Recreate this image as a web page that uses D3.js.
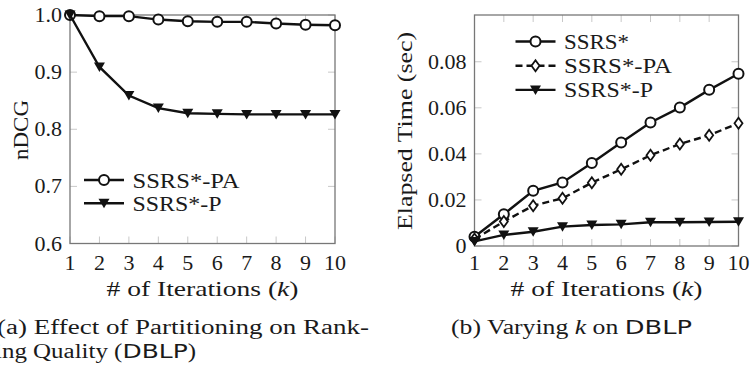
<!DOCTYPE html>
<html>
<head>
<meta charset="utf-8">
<script src="https://cdn.jsdelivr.net/npm/d3@7"></script>
<style>
  body { margin: 0; background: #fff; }
  svg text { font-family: "Liberation Serif", "DejaVu Serif", serif; fill: #1a1a1a; }
  svg .sans { font-family: "DejaVu Sans", "Liberation Sans", sans-serif; }
</style>
</head>
<body>
<div id="chart"></div>
<script>
// iterations k
var iterations = [1, 2, 3, 4, 5, 6, 7, 8, 9, 10];

// (a) nDCG
var ndcgPA = [1.0, 0.998, 0.998, 0.992, 0.989, 0.988, 0.988, 0.985, 0.983, 0.982];
var ndcgP  = [1.0, 0.909, 0.859, 0.837, 0.828, 0.827, 0.826, 0.826, 0.826, 0.826];
var ndcgTicks = [0.6, 0.7, 0.8, 0.9, 1.0];

// (b) elapsed time (sec)
var timeS  = [0.004, 0.0138, 0.024, 0.0276, 0.036, 0.0449, 0.0536, 0.0601, 0.0678, 0.0748];
var timePA = [0.003, 0.0106, 0.0175, 0.0207, 0.0275, 0.0333, 0.0394, 0.0443, 0.0481, 0.0533];
var timeP  = [0.002, 0.0048, 0.0062, 0.0084, 0.0091, 0.0094, 0.0103, 0.0103, 0.0104, 0.0105];
var timeTicks = [0, 0.02, 0.04, 0.06, 0.08];

var width = 752, height = 374;
var svg = d3.select('#chart').append('svg')
  .attr('width', width)
  .attr('height', height);

var symCircle = function(g){ g.append('circle').attr('r', 5).attr('fill', '#fff').attr('stroke', '#111').attr('stroke-width', 2); };
var symTri = function(g){ g.append('path').attr('d', 'M-5.5,-4.5L5.5,-4.5L0,5z').attr('fill', '#111'); };
var symDiamond = function(g){ g.append('path').attr('d', 'M0,-5.5L4,0L0,5.5L-4,0z').attr('fill', '#fff').attr('stroke', '#111').attr('stroke-width', 1.8); };

// stretch a text to the width it has in the reference
function fit(t, w) {
  return t.attr('textLength', w).attr('lengthAdjust', 'spacingAndGlyphs');
}

function drawPanel(p) {
  var x = d3.scaleLinear().domain([1, 10]).range([p.left, p.right]);
  var y = d3.scaleLinear().domain(p.ydomain).range([p.bottom, p.top]);
  var g = svg.append('g');

  // light inner ticks on all sides
  var tl = 7;
  iterations.forEach(function(k){
    g.append('line').attr('x1', x(k)).attr('x2', x(k)).attr('y1', p.bottom).attr('y2', p.bottom - tl).attr('stroke', '#c8c8c8');
    g.append('line').attr('x1', x(k)).attr('x2', x(k)).attr('y1', p.top).attr('y2', p.top + tl).attr('stroke', '#c8c8c8');
  });
  p.yticks.forEach(function(v){
    g.append('line').attr('y1', y(v)).attr('y2', y(v)).attr('x1', p.left).attr('x2', p.left + tl).attr('stroke', '#c8c8c8');
    g.append('line').attr('y1', y(v)).attr('y2', y(v)).attr('x1', p.right).attr('x2', p.right - tl).attr('stroke', '#c8c8c8');
  });

  // frame
  g.append('rect').attr('x', p.left).attr('y', p.top)
    .attr('width', p.right - p.left).attr('height', p.bottom - p.top)
    .attr('fill', 'none').attr('stroke', '#777').attr('stroke-width', 1.3);

  // tick labels
  g.selectAll('.xt').data(iterations).enter().append('text')
    .attr('x', function(d){ return x(d); }).attr('y', 270)
    .attr('text-anchor', 'middle').style('font-size', '22px')
    .text(function(d){ return d; });
  g.selectAll('.yt').data(p.yticks).enter().append('text')
    .attr('x', p.left - 8).attr('y', function(d){ return y(d) + 7; })
    .attr('text-anchor', 'end').style('font-size', '22px')
    .text(p.yfmt);

  // axis titles
  var xt = g.append('text').attr('x', (p.left + p.right) / 2).attr('y', 296)
    .attr('text-anchor', 'middle').style('font-size', '22px');
  xt.append('tspan').text('# of Iterations (');
  xt.append('tspan').style('font-style', 'italic').text('k');
  xt.append('tspan').text(')');
  fit(xt, 192);
  var yt = g.append('text').attr('transform', 'translate(' + p.ytitleX + ',' + p.ytitleY + ') rotate(-90)')
    .attr('text-anchor', 'middle').attr('dy', '0.35em').style('font-size', '22px')
    .text(p.ytitle);
  fit(yt, p.ytitleW);

  // series
  var line = d3.line().x(function(d, i){ return x(iterations[i]); }).y(function(d){ return y(d); });
  p.series.forEach(function(s){
    g.append('path').datum(s.values).attr('d', line)
      .attr('fill', 'none').attr('stroke', '#111').attr('stroke-width', 2.4)
      .attr('stroke-dasharray', s.dash || null);
    s.values.forEach(function(v, i){
      var m = g.append('g').attr('transform', 'translate(' + x(iterations[i]) + ',' + y(v) + ')');
      s.sym(m);
    });
  });

  // legend
  p.series.forEach(function(s, i){
    var ly = p.legY + i * p.legStep;
    g.append('line').attr('x1', p.legX).attr('x2', p.legX + 40).attr('y1', ly).attr('y2', ly)
      .attr('stroke', '#111').attr('stroke-width', 2.4).attr('stroke-dasharray', s.dash || null);
    s.sym(g.append('g').attr('transform', 'translate(' + (p.legX + 20) + ',' + ly + ')'));
    var lt = g.append('text').attr('x', p.legX + 48.5).attr('y', ly + 7.5).style('font-size', '22px').text(s.name);
    fit(lt, s.w);
  });
}

drawPanel({
  left: 70, right: 335, top: 15, bottom: 243.5,
  ydomain: [0.6, 1.0], yticks: ndcgTicks, yfmt: d3.format('.1f'),
  ytitle: 'nDCG', ytitleX: 20, ytitleY: 130, ytitleW: 60,
  legX: 84, legY: 180, legStep: 23.3,
  series: [
    { name: 'SSRS*-PA', values: ndcgPA, sym: symCircle, w: 107 },
    { name: 'SSRS*-P', values: ndcgP, sym: symTri, w: 89 }
  ]
});

drawPanel({
  left: 474.5, right: 738.5, top: 15, bottom: 246,
  ydomain: [0, 0.1003], yticks: timeTicks, yfmt: function(d){ return d === 0 ? '0' : d3.format('.2f')(d); },
  ytitle: 'Elapsed Time (sec)', ytitleX: 404, ytitleY: 131, ytitleW: 198,
  legX: 515.5, legY: 41.5, legStep: 24.2,
  series: [
    { name: 'SSRS*', values: timeS, sym: symCircle, w: 65 },
    { name: 'SSRS*-PA', values: timePA, sym: symDiamond, dash: '7,4', w: 108 },
    { name: 'SSRS*-P', values: timeP, sym: symTri, w: 89 }
  ]
});

// captions
var c1 = svg.append('text').attr('x', -3).attr('y', 334).style('font-size', '20px');
c1.text('(a) Effect of Partitioning on Rank-');
fit(c1, 372);
var c2 = svg.append('text').attr('x', -5).attr('y', 358).style('font-size', '20px');
c2.append('tspan').text('ing Quality (');
c2.append('tspan').attr('class', 'sans').text('DBLP');
c2.append('tspan').text(')');
fit(c2, 201);

var c3 = svg.append('text').attr('x', 571.5).attr('y', 334).attr('text-anchor', 'middle').style('font-size', '20px');
c3.append('tspan').text('(b) Varying ');
c3.append('tspan').style('font-style', 'italic').text('k');
c3.append('tspan').text(' on ');
c3.append('tspan').attr('class', 'sans').text('DBLP');
fit(c3, 241);
</script>
</body>
</html>
